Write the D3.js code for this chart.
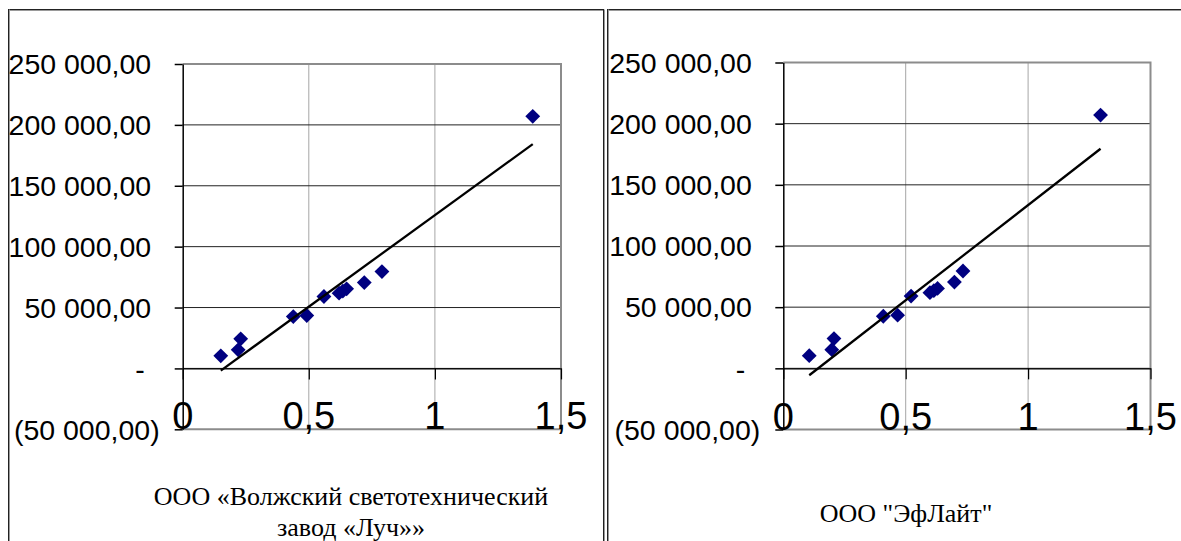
<!DOCTYPE html>
<html><head><meta charset="utf-8">
<script src="https://cdn.jsdelivr.net/npm/d3@7"></script>
<style>body{margin:0;background:#fff;} svg{display:block;}</style>
</head><body>
<svg id="c" width="1181" height="541"></svg>
<script>
// ---- data ----
const yTickValues = [-50000, 0, 50000, 100000, 150000, 200000, 250000];
const yTickLabels = ["(50 000,00)", "-", "50 000,00", "100 000,00", "150 000,00", "200 000,00", "250 000,00"];
const xTickValues = [0, 0.5, 1, 1.5];
const xTickLabels = ["0", "0,5", "1", "1,5"];
const costValues = [10345, 15270, 24300, 42600, 43430, 59030, 61820, 63500, 65350, 70520, 79550, 207000];
const luchX = [0.151, 0.22, 0.23, 0.4385, 0.492, 0.56, 0.62, 0.635, 0.65, 0.72, 0.79, 1.388];
const eflightX = [0.106, 0.198, 0.207, 0.4085, 0.467, 0.522, 0.599, 0.615, 0.63, 0.699, 0.734, 1.296];
const luchCaption = ["ООО «Волжский светотехнический", "завод «Луч»»"];
const eflightCaption = ["ООО \"ЭфЛайт\""];

const svg = d3.select("#c");

// panel frames (double-line look)
function frameLine(x1, y1, x2, y2) {
  svg.append("line").attr("x1", x1).attr("y1", y1).attr("x2", x2).attr("y2", y2)
    .attr("stroke", "#222").attr("stroke-width", 1);
  const dx = (x1 === x2) ? 1 : 0, dy = (y1 === y2) ? 1 : 0;
  svg.append("line").attr("x1", x1 + dx).attr("y1", y1 + dy).attr("x2", x2 + dx).attr("y2", y2 + dy)
    .attr("stroke", "#9a9a9a").attr("stroke-width", 1);
}
frameLine(8, 9.5, 604, 9.5);
frameLine(8.5, 9.5, 8.5, 541);
frameLine(603.5, 9.5, 603.5, 541);
frameLine(607, 9.5, 1181, 9.5);
frameLine(607.5, 9.5, 607.5, 541);

function drawChart(cfg) {
  const x = d3.scaleLinear().domain([xTickValues[0], xTickValues[xTickValues.length - 1]]).range([cfg.left, cfg.right]);
  const y = d3.scaleLinear().domain([yTickValues[0], yTickValues[yTickValues.length - 1]]).range([cfg.bottom, cfg.top]);
  const g = svg.append("g");

  // vertical gridlines
  g.selectAll(".vg").data(xTickValues.slice(1, -1)).enter().append("line")
    .attr("x1", d => x(d)).attr("x2", d => x(d))
    .attr("y1", cfg.top).attr("y2", cfg.bottom)
    .attr("stroke", "#a6a6a6").attr("stroke-width", 1);
  // horizontal gridlines
  g.selectAll(".hg").data(yTickValues.slice(1, -1)).enter().append("line")
    .attr("x1", cfg.left).attr("x2", cfg.right)
    .attr("y1", d => y(d)).attr("y2", d => y(d))
    .attr("stroke", "#222").attr("stroke-width", 1);
  // plot border (top, right, bottom)
  g.append("path")
    .attr("d", `M${cfg.left},${cfg.top}H${cfg.right}V${cfg.bottom}H${cfg.left}`)
    .attr("fill", "none").attr("stroke", "#8c8c8c").attr("stroke-width", 2);

  // y axis
  const ya = g.append("g").attr("transform", `translate(${cfg.left},0)`)
    .call(d3.axisLeft(y).tickValues(yTickValues).tickSize(8).tickSizeOuter(0).tickFormat(""));
  ya.selectAll("path,line").attr("stroke", "#000").attr("stroke-width", 1.5);

  // x axis crossing at 0
  const xa = g.append("g").attr("transform", `translate(0,${y(0)})`)
    .call(d3.axisBottom(x).tickValues(xTickValues).tickSize(11).tickSizeOuter(0).tickFormat(""));
  xa.selectAll("path,line").attr("stroke", "#000").attr("stroke-width", 1.2);

  // y labels
  g.selectAll(".yl").data(yTickValues).enter().append("text")
    .attr("x", (d, i) => {
      const lab = yTickLabels[i];
      if (lab === "-") return cfg.left - 38;
      if (lab.startsWith("(")) return cfg.left - 23;
      return cfg.left - 31.5;
    })
    .attr("y", d => y(d)).attr("dy", "0.36em")
    .attr("text-anchor", "end")
    .attr("font-family", "Liberation Sans, Arial, sans-serif").attr("font-size", 28.5)
    .attr("fill", "#000")
    .text((d, i) => yTickLabels[i]);

  // markers
  g.selectAll(".pt").data(cfg.xs).enter().append("path")
    .attr("d", d3.symbol(d3.symbolSquare, 110))
    .attr("transform", (d, i) => `translate(${x(d)},${y(costValues[i])}) rotate(45)`)
    .attr("fill", "#000080");

  // linear trend line (least squares)
  const mx = d3.mean(cfg.xs), my = d3.mean(costValues);
  let sxy = 0, sxx = 0;
  cfg.xs.forEach((v, i) => { sxy += (v - mx) * (costValues[i] - my); sxx += (v - mx) * (v - mx); });
  const slope = sxy / sxx, icpt = my - slope * mx;
  const ext = d3.extent(cfg.xs);
  g.append("path")
    .datum(ext)
    .attr("d", d3.line().x(d => x(d)).y(d => y(icpt + slope * d)))
    .attr("fill", "none").attr("stroke", "#000").attr("stroke-width", 2.3);

  // x labels
  g.selectAll(".xl").data(xTickValues).enter().append("text")
    .attr("x", d => x(d)).attr("y", cfg.bottom)
    .attr("text-anchor", "middle")
    .attr("font-family", "Liberation Sans, Arial, sans-serif").attr("font-size", 38)
    .attr("fill", "#000")
    .text((d, i) => xTickLabels[i]);

  // caption
  g.selectAll(".cap").data(cfg.caption).enter().append("text")
    .attr("x", cfg.capX).attr("y", (d, i) => cfg.capY + i * 31)
    .attr("text-anchor", "middle")
    .attr("font-family", "Liberation Serif, Times New Roman, serif").attr("font-size", 26)
    .attr("fill", "#000")
    .text(d => d);
}

drawChart({ left: 182.7, right: 561, top: 64, bottom: 429.3, xs: luchX, caption: luchCaption, capX: 351, capY: 505 });
drawChart({ left: 783.3, right: 1150.5, top: 62.5, bottom: 429.5, xs: eflightX, caption: eflightCaption, capX: 906, capY: 522 });
</script>
</body></html>
